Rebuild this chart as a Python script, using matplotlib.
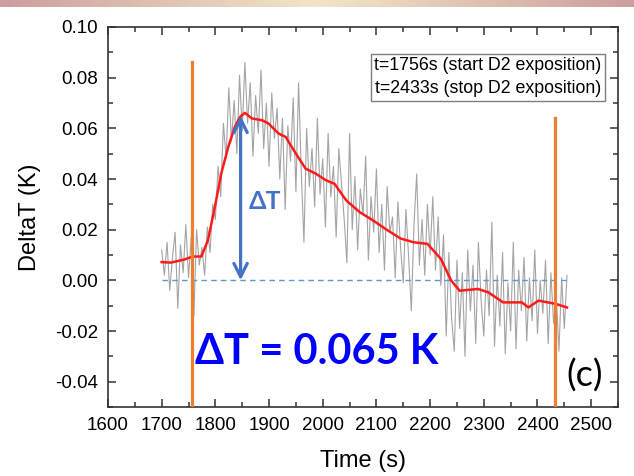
import numpy as np
import matplotlib
matplotlib.use("Agg")
import matplotlib.pyplot as plt
from matplotlib.ticker import MultipleLocator

# ---------------- data ----------------
raw_t_start = 1700
raw_t_step = 5
raw_delta_t = [
    0.012, 0.002, 0.015, -0.004, 0.009, 0.019, -0.011, 0.014, 0.003, 0.022,
    0.001, 0.017, -0.014, 0.020, 0.006, 0.013, 0.002, 0.021, 0.011, 0.030,
    0.024, 0.045, 0.033, 0.062, 0.048, 0.076, 0.055, 0.071, 0.050, 0.081,
    0.059, 0.086, 0.062, 0.078, 0.049, 0.073, 0.058, 0.083, 0.052, 0.070,
    0.045, 0.074, 0.056, 0.068, 0.040, 0.064, 0.028, 0.061, 0.047, 0.072,
    0.035, 0.078, 0.043, 0.015, 0.060, 0.037, 0.052, 0.029, 0.064, 0.034,
    0.048, 0.021, 0.058, 0.033, 0.045, 0.017, 0.052, 0.038, 0.024, 0.007,
    0.058, 0.020, 0.041, 0.012, 0.036, 0.026, 0.049, 0.008, 0.033, 0.019,
    0.044, 0.011, 0.030, 0.004, 0.037, 0.019, 0.025, 0.001, 0.031, 0.013,
    -0.001, 0.028, 0.009, -0.012, 0.022, 0.042, 0.006, 0.024, 0.002, 0.030,
    0.010, 0.033, 0.004, 0.025, -0.002, 0.018, -0.022, 0.011, -0.015, -0.028,
    0.008, -0.019, 0.003, -0.030, 0.012, -0.012, 0.006, -0.025, 0.015, -0.008,
    -0.022, 0.004, -0.014, 0.023, -0.026, 0.002, -0.018, 0.011, -0.029, -0.001,
    -0.020, 0.015, -0.027, 0.004, -0.012, 0.009, -0.024, 0.001, -0.016, 0.012,
    -0.021, 0.000, -0.013, 0.008, -0.025, 0.003, -0.017, -0.006, -0.028, 0.001,
    -0.019, 0.002,
]
raw_time = [raw_t_start + raw_t_step * i for i in range(len(raw_delta_t))]

smooth_time = [1700, 1717, 1742, 1758, 1774, 1786, 1799, 1811, 1824, 1836,
               1846, 1855, 1868, 1887, 1899, 1918, 1931, 1950, 1968, 1987,
               2006, 2022, 2044, 2069, 2094, 2119, 2145, 2170, 2195, 2220,
               2239, 2255, 2289, 2308, 2336, 2371, 2383, 2402, 2434, 2455]
smooth_delta_t = [0.0072, 0.0070, 0.0082, 0.0094, 0.0094, 0.0157, 0.0289, 0.0422, 0.0526, 0.0605,
                  0.0645, 0.0661, 0.0639, 0.0632, 0.0619, 0.0579, 0.0566, 0.0500, 0.0441, 0.0421,
                  0.0395, 0.0381, 0.0315, 0.0269, 0.0236, 0.0200, 0.0165, 0.0150, 0.0144, 0.0085,
                  0.0000, -0.0041, -0.0034, -0.0047, -0.0087, -0.0087, -0.0107, -0.0080, -0.0093, -0.0107]

t_start = 1756
t_stop = 2433
start_line_top = 0.086
stop_line_top = 0.064
baseline_range = [1700, 2455]
peak_time = 1847
peak_value = 0.065

xticks = [1600, 1700, 1800, 1900, 2000, 2100, 2200, 2300, 2400, 2500]
yticks = [-0.04, -0.02, 0.00, 0.02, 0.04, 0.06, 0.08, 0.10]
legend_lines = ["t=1756s (start D2 exposition)", "t=2433s (stop D2 exposition)"]

# ---------------- figure ----------------
plt.rcParams['font.family'] = ['Liberation Sans', 'DejaVu Sans']
fig = plt.figure(figsize=(6.34, 4.76), dpi=100)

# decorative gradient strip at the very top
strip = fig.add_axes([0, 1 - 7 / 476, 1, 7 / 476])
grad = np.linspace(0, 1, 256)
c1 = np.array([0.80, 0.62, 0.62])
c2 = np.array([0.95, 0.90, 0.78])
w = np.abs(grad - 0.5) * 2
cols = (w[:, None] * c1 + (1 - w[:, None]) * c2)[None, :, :]
strip.imshow(cols, aspect='auto', extent=[0, 1, 0, 1])
strip.axis('off')

ax = fig.add_axes([108 / 634, 1 - 407 / 476, 510 / 634, 380 / 476])

ax.plot(raw_time, raw_delta_t, color='#9a9a9a', lw=0.8, alpha=0.9, zorder=2)
ax.plot(smooth_time, smooth_delta_t, color='#ff1a1a', lw=1.8, zorder=4)

ax.plot(baseline_range, [0, 0], color='#5b9bd5', lw=1.0, ls=(0, (4, 3)), zorder=3)

ax.plot([t_start, t_start], [-0.05, start_line_top], color='#ed7d31', lw=2.3, zorder=5)
ax.plot([t_stop, t_stop], [-0.05, stop_line_top], color='#ed7d31', lw=2.3, zorder=5)

ax.annotate('', xy=(peak_time, peak_value), xytext=(peak_time, 0.0),
            arrowprops=dict(arrowstyle='<->', color='#4472c4', lw=2.3,
                            mutation_scale=24, shrinkA=0, shrinkB=0), zorder=6)
ax.text(1893, 0.031, 'ΔT', color='#4472c4', fontsize=18, fontweight='bold',
        family=['Lato', 'DejaVu Sans'], ha='center', va='center', zorder=6)

ax.text(0.171, 0.145, 'ΔT = 0.065 K', transform=ax.transAxes, color='#0000ff',
        fontsize=30, fontweight='bold', family=['Lato', 'DejaVu Sans'],
        ha='left', va='center', zorder=7)
ax.text(0.935, 0.084, '(c)', transform=ax.transAxes, color='black',
        fontsize=26, family=['Lato', 'DejaVu Sans'], ha='center', va='center', zorder=7)

ax.text(0.968, 0.92, '\n'.join(legend_lines), transform=ax.transAxes,
        ha='right', va='top', fontsize=12.8, linespacing=1.45,
        bbox=dict(boxstyle='square,pad=0.2', fc='white', ec='#7f7f7f', lw=1.0), zorder=8)

ax.set_xlim(1600, 2550)
ax.set_ylim(-0.05, 0.10)
ax.set_xticks(xticks)
ax.set_yticks(yticks)
ax.set_yticklabels([f'{v:.2f}' for v in yticks])
ax.xaxis.set_minor_locator(MultipleLocator(50))
ax.yaxis.set_minor_locator(MultipleLocator(0.01))
ax.tick_params(which='both', direction='in', top=True, right=True,
               labeltop=False, labelright=False, color='#333333', width=1.1)
ax.tick_params(which='major', length=6, labelsize=13.5, pad=7)
ax.tick_params(which='minor', length=3.5)
for s in ax.spines.values():
    s.set_color('#333333')
    s.set_linewidth(1.2)

ax.set_xlabel('Time (s)', fontsize=17, labelpad=12)
ax.set_ylabel('DeltaT (K)', fontsize=17, labelpad=10)

fig.savefig('out.png', dpi=100)
